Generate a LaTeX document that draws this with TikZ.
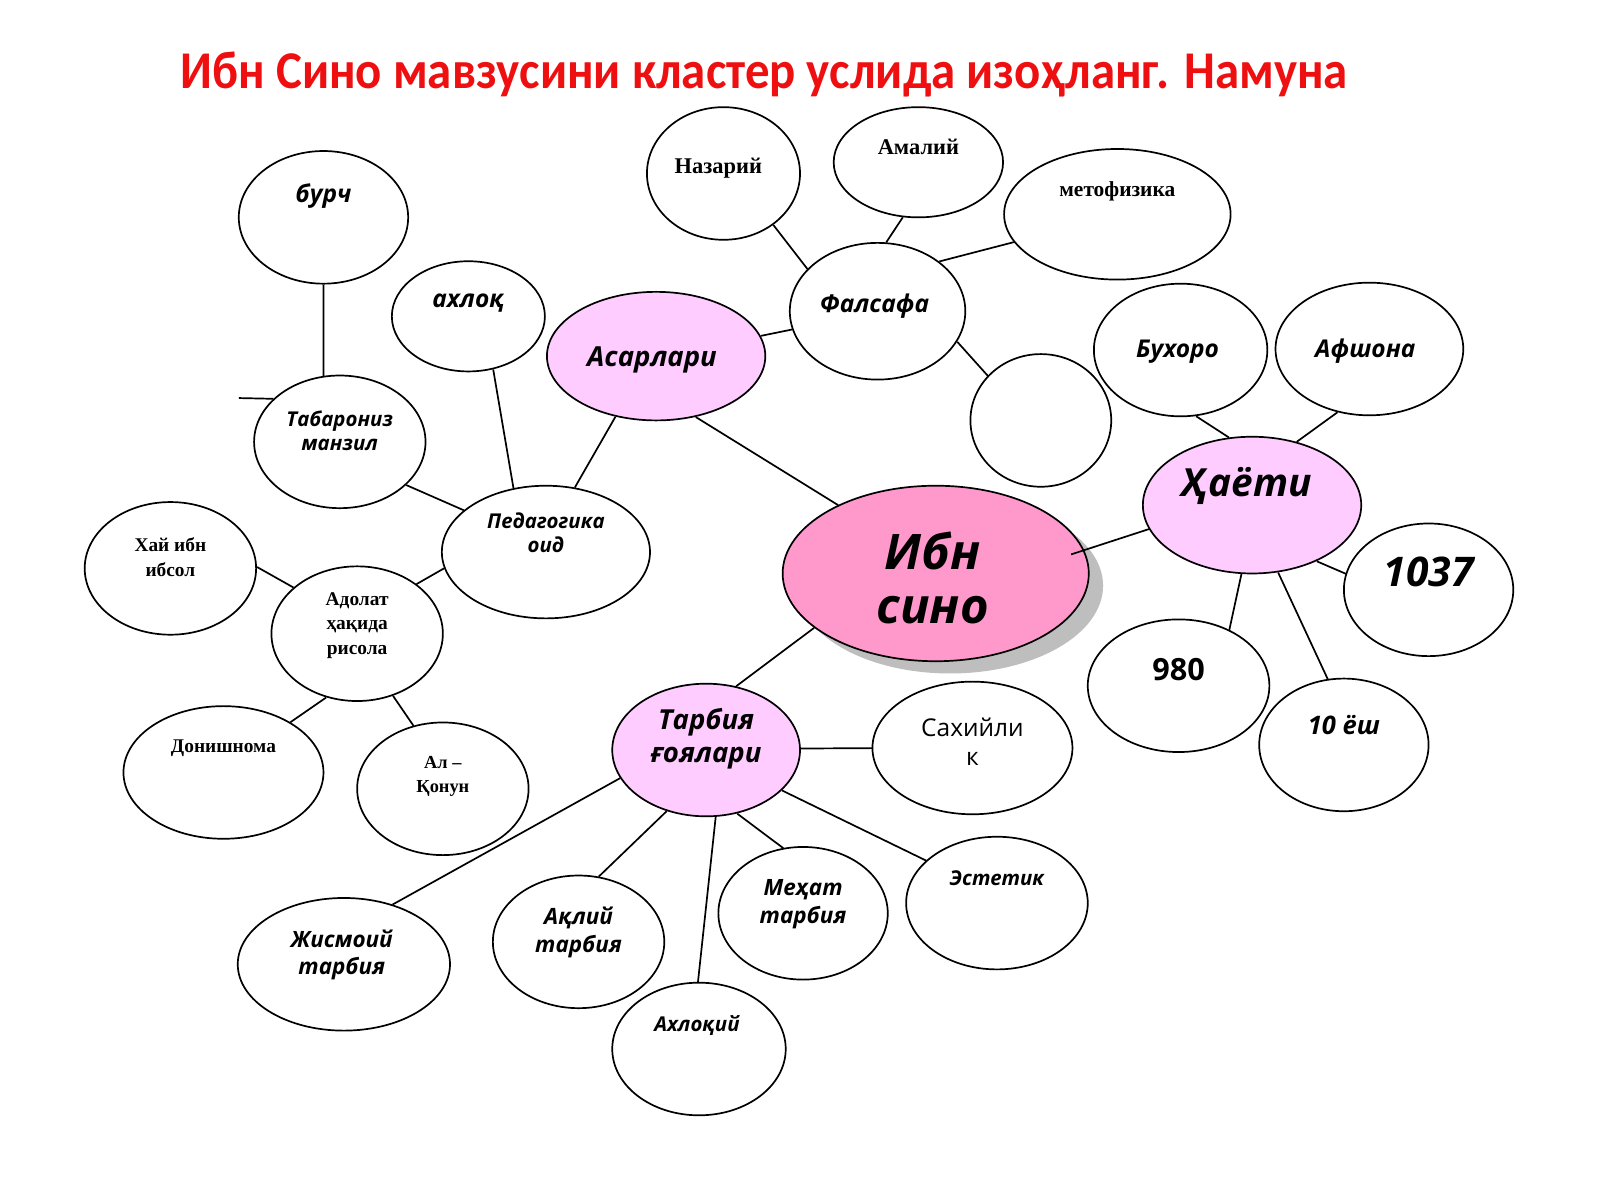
\documentclass[tikz,border=0pt]{standalone}
\usepackage{fontspec}
\usetikzlibrary{shapes.geometric}
\newfontfamily\osf{Open Sans}
\newfontfamily\lsrf{Liberation Serif}
\newfontfamily\carl{Carlito}[FakeStretch=0.92]
\definecolor{pinkA}{RGB}{255,204,255}
\definecolor{pinkB}{RGB}{255,153,204}
\definecolor{shadowgray}{RGB}{190,190,190}
\definecolor{titlered}{RGB}{238,16,16}
\newcommand{\bis}[1]{\osf\bfseries\itshape\fontsize{#1}{#1}\selectfont}
\newcommand{\bsr}[1]{\lsrf\bfseries\fontsize{#1}{#1}\selectfont}
\tikzset{
  bub/.style={ellipse, draw=black, line width=1.7pt, fill=white, inner sep=0pt},
  pinkbub/.style={bub, fill=pinkA},
  conn/.style={line width=1.7pt, black},
  lbl/.style={inner sep=0pt, align=center, text=black},
}
\begin{document}
\begin{tikzpicture}[x=1pt,y=-1pt,scale=1.0204,transform shape]
\useasboundingbox[fill=white] (0,0) rectangle (1568,1176);

% title
\node[lbl, text=titlered, font={\carl\bfseries\fontsize{52}{56}\selectfont}] (title) at (749,73) {Ибн Сино мавзусини кластер услида изоҳланг. Намуна};

% bubbles
\node[bub, minimum width=166pt, minimum height=130pt] (burch) at (317,213) {};
\node[bub, minimum width=150pt, minimum height=108pt] (axloq) at (459,310) {};
\node[pinkbub, minimum width=214pt, minimum height=126pt] (asar) at (643,349) {};
\node[bub, minimum width=150pt, minimum height=130pt] (nazar) at (709,170) {};
\node[bub, minimum width=166pt, minimum height=108pt] (amal) at (900,159) {};
\node[bub, minimum width=222pt, minimum height=128pt] (meto) at (1095,210) {};
\node[bub, minimum width=172pt, minimum height=134pt] (falsafa) at (860,305) {};
\node[bub, minimum width=138pt, minimum height=130pt] (empty) at (1020,412) {};
\node[bub, minimum width=170pt, minimum height=130pt] (buxoro) at (1157,343) {};
\node[bub, minimum width=184pt, minimum height=130pt] (afshona) at (1342,342) {};
\node[pinkbub, minimum width=214pt, minimum height=134pt] (hayoti) at (1227,495) {};
\node[bub, minimum width=166pt, minimum height=130pt] (y1037) at (1400,578) {};
\node[bub, minimum width=178pt, minimum height=130pt] (y980) at (1155,672) {};
\node[bub, minimum width=166pt, minimum height=130pt] (yosh) at (1317,730) {};
\node[ellipse, fill=shadowgray, inner sep=0pt, minimum width=300pt, minimum height=172pt] (ibnshadow) at (931,574) {};
\node[bub, fill=pinkB, minimum width=300pt, minimum height=172pt] (ibn) at (917,562) {};
\node[bub, minimum width=168pt, minimum height=130pt] (tabar) at (333,433) {};
\node[bub, minimum width=204pt, minimum height=130pt] (pedag) at (535,541) {};
\node[bub, minimum width=168pt, minimum height=130pt] (hai) at (167,557) {};
\node[bub, minimum width=168pt, minimum height=132pt] (adolat) at (350,621) {};
\node[bub, minimum width=196pt, minimum height=130pt] (donish) at (219,757) {};
\node[bub, minimum width=168pt, minimum height=130pt] (qonun) at (434,773) {};
\node[pinkbub, minimum width=184pt, minimum height=130pt] (tarbia) at (692,735) {};
\node[bub, minimum width=196pt, minimum height=130pt] (saxiy) at (953,733) {};
\node[bub, minimum width=178pt, minimum height=130pt] (estetik) at (977,885) {};
\node[bub, minimum width=166pt, minimum height=130pt] (mehat) at (787,895) {};
\node[bub, minimum width=170pt, minimum height=130pt] (axloqiy) at (685,1028) {};
\node[bub, minimum width=168pt, minimum height=130pt] (aqliy) at (567,923) {};
\node[bub, minimum width=208pt, minimum height=130pt] (jismoiy) at (337,945) {};

\coordinate (stub) at (234,390);

% connectors
\draw[conn] (burch.south) -- (tabar.104);
\draw[conn] (stub) -- (tabar.147);
\draw[conn] (axloq.-65) -- (pedag.117);
\draw[conn] (asar.-124) -- (pedag.66);
\draw[conn] (tabar.-33) -- (pedag.153);
\draw[conn] (pedag.189) -- (adolat.40);
\draw[conn] (hai.1) -- (adolat.144);
\draw[conn] (adolat.-116) -- (donish.37);
\draw[conn] (adolat.-60) -- (qonun.115);
\draw[conn] (asar.-57) -- (ibn.145);
\draw[conn] (asar.11) -- (falsafa.192);
\draw[conn] (falsafa.149) -- (nazar.-46);
\draw[conn] (falsafa.83) -- (amal.-106);
\draw[conn] (falsafa.39) -- (meto.195);
\draw[conn] (falsafa.-21) -- (empty.140);
\draw[conn] (buxoro.-77) -- (hayoti.109);
\draw[conn] (afshona.-117) -- (hayoti.55);
\draw[conn, shorten <=-14pt] (ibn.9) -- (hayoti.193);
\draw[conn] (hayoti.-41) -- (y1037.169);
\draw[conn] (hayoti.-99) -- (y980.48);
\draw[conn] (hayoti.-69) -- (yosh.104);
\draw[conn] (ibn.204) -- (tarbia.65);
\draw[conn] (tarbia.1) -- (saxiy.180);
\draw[conn] (tarbia.198) -- (jismoiy.51);
\draw[conn] (tarbia.-123) -- (aqliy.73);
\draw[conn] (tarbia.-82) -- (axloqiy.91);
\draw[conn] (tarbia.-64) -- (mehat.107);
\draw[conn] (tarbia.-28) -- (estetik.149);

% labels
\node[lbl, font=\bis{24}] (tburch) at (317,192) {бурч};
\node[lbl, font=\bis{24}] (taxloq) at (459,297) {ахлоқ};
\node[lbl, font=\bis{27}] (tasar) at (639,353) {Асарлари};
\node[lbl, font=\bsr{22}] (tnazar) at (704,165) {Назарий};
\node[lbl, font=\bsr{22}] (tamal) at (900,144) {Амалий};
\node[lbl, font=\bsr{21}] (tmeto) at (1095,188) {метофизика};
\node[lbl, font=\bis{24}] (tfals) at (857,300) {Фалсафа};
\node[lbl, font=\bis{24}] (tbux) at (1154,345) {Бухоро};
\node[lbl, font=\bis{24}] (tafsh) at (1338,344) {Афшона};
\node[lbl, font=\bis{38}] (thay) at (1222,476) {Ҳаёти};
\node[lbl, font=\bis{40}] (t1037) at (1400,560) {1037};
\node[lbl, font={\osf\bfseries\fontsize{30}{30}\selectfont}] (t980) at (1155,656) {980};
\node[lbl, font=\bis{25}] (tyosh) at (1317,711) {10 ёш};
\node[lbl, font={\bis{48}\baselineskip=53pt}] (tibn) at (914,566) {Ибн\\сино};
\node[lbl, font={\bis{20}\baselineskip=24pt}] (ttabar) at (333,422) {Табарониз\\манзил};
\node[lbl, font={\bis{20}\baselineskip=24pt}] (tpedag) at (535,522) {Педагогика\\оид};
\node[lbl, font={\bsr{19}\baselineskip=24pt}] (thai) at (167,546) {Хай ибн\\ибсол};
\node[lbl, font={\bsr{19}\baselineskip=24pt}] (tadol) at (350,613) {Адолат\\ҳақида\\рисола};
\node[lbl, font=\bsr{19}] (tdonish) at (219,733) {Донишнома};
\node[lbl, font={\bsr{18}\baselineskip=24pt}] (tqonun) at (434,761) {Ал –\\Қонун};
\node[lbl, font={\bis{27}\baselineskip=32pt}] (ttarb) at (692,724) {Тарбия\\ғоялари};
\node[lbl, font={\osf\fontsize{24}{29}\selectfont}] (tsax) at (953,727) {Сахийли\\к};
\node[lbl, font=\bis{20}] (test) at (977,861) {Эстетик};
\node[lbl, font={\bis{22}\baselineskip=27pt}] (tmeh) at (787,886) {Меҳат\\тарбия};
\node[lbl, font=\bis{20}] (taxlq) at (683,1005) {Ахлоқий};
\node[lbl, font={\bis{22}\baselineskip=27pt}] (taql) at (567,914) {Ақлий\\тарбия};
\node[lbl, font={\bis{22}\baselineskip=26pt}] (tjism) at (335,936) {Жисмоий\\тарбия};
\end{tikzpicture}
\end{document}
